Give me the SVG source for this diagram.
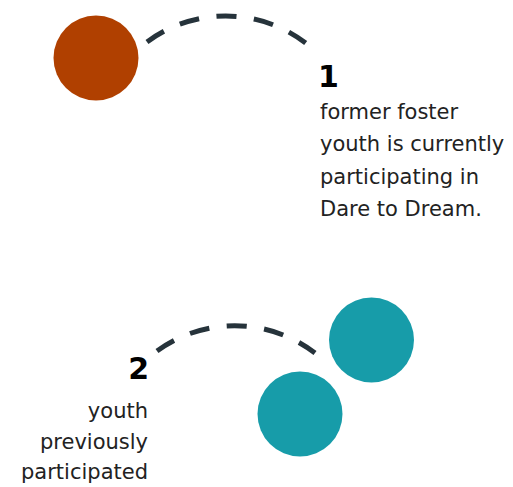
<svg xmlns="http://www.w3.org/2000/svg" width="513" height="487" viewBox="0 0 513 487">
  <style>
    .arc { fill: none; stroke: #26333b; stroke-width: 5; stroke-dasharray: 20 17.5; }
    .num { font-family: "DejaVu Sans", "Liberation Sans", sans-serif; font-weight: bold; font-size: 30px; fill: #000; }
    .body { font-family: "DejaVu Sans", "Liberation Sans", sans-serif; font-size: 21px; fill: #222; }
    .orange { fill: #b04000; }
    .teal { fill: #179ca9; }
  </style>
  <rect width="513" height="487" fill="#fff"/>
  <g id="connectors">
    <path class="arc" d="M147,42 A132,132 0 0 1 307,44"/>
    <path class="arc" d="M157,351 A132,132 0 0 1 315,353"/>
  </g>
  <g id="node-orange">
    <circle class="orange" cx="96" cy="58" r="42.5"/>
  </g>
  <g id="label-1">
    <text class="num" x="318" y="87">1</text>
    <text class="body" x="320" y="119">former foster</text>
    <text class="body" x="320" y="151">youth is currently</text>
    <text class="body" x="320" y="184">participating in</text>
    <text class="body" x="320" y="216">Dare to Dream.</text>
  </g>
  <g id="node-teal-1">
    <circle class="teal" cx="371.5" cy="340" r="42.5"/>
  </g>
  <g id="node-teal-2">
    <circle class="teal" cx="300" cy="414" r="42.5"/>
  </g>
  <g id="label-2" text-anchor="end">
    <text class="num" x="149" y="379">2</text>
    <text class="body" x="148" y="418">youth</text>
    <text class="body" x="148" y="449">previously</text>
    <text class="body" x="148" y="479">participated</text>
  </g>
</svg>
